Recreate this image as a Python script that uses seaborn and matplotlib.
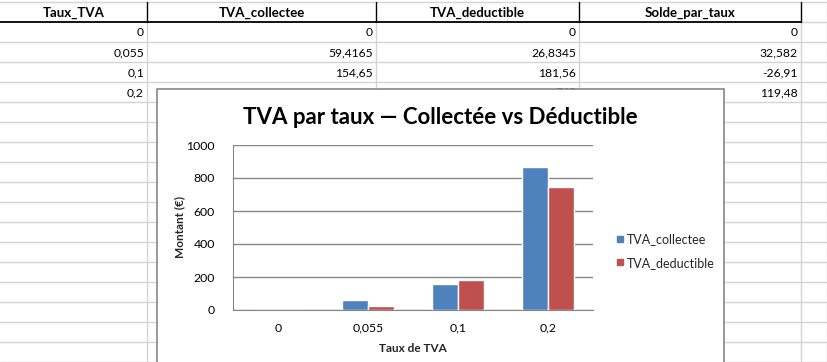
import matplotlib
matplotlib.use("Agg")
import matplotlib.pyplot as plt
from matplotlib.patches import Rectangle
from matplotlib.lines import Line2D
import seaborn as sns
import pandas as pd

# Data
taux = ["0", "0,055", "0,1", "0,2"]
tva_collectee = [0, 59.4165, 154.65, 864.48]
tva_deductible = [0, 26.8345, 181.56, 745.0]
solde_cells = ["0", "32,582", "-26,91", "119,48"]
collectee_cells = ["0", "59,4165", "154,65", "864,48"]
deductible_cells = ["0", "26,8345", "181,56", "745"]
headers = ["Taux_TVA", "TVA_collectee", "TVA_deductible", "Solde_par_taux"]
y_ticks = [0, 200, 400, 600, 800, 1000]

df = pd.DataFrame({"Taux": taux, "TVA_collectee": tva_collectee,
                   "TVA_deductible": tva_deductible})
long_df = df.melt(id_vars="Taux", var_name="Serie", value_name="Montant")

sns.set_style("white")
plt.rcParams["font.family"] = ["Lato", "DejaVu Sans"]

W, H = 828, 362
fig = plt.figure(figsize=(W / 100, H / 100), dpi=100)

# Spreadsheet background (pixel coordinates)
bg = fig.add_axes([0, 0, 1, 1])
bg.set_xlim(0, W)
bg.set_ylim(H, 0)
bg.axis("off")

grid_col = "#d4d4d4"
col_edges = [0, 147, 376, 579, 801]
for x in col_edges[1:]:
    bg.plot([x, x], [22, H], color=grid_col, lw=1)
bg.plot([W - 0.5, W - 0.5], [0, H], color=grid_col, lw=1)
for r in range(1, 18):
    y = 22 + 20 * r
    bg.plot([0, W], [y, y], color=grid_col, lw=1)
bg.plot([0, W], [2, 2], color=grid_col, lw=1)
bg.plot([801, W], [22, 22], color=grid_col, lw=1)

# Header row with black borders
bg.plot([0, 801], [22, 22], color="black", lw=1.3)
for x in col_edges[1:]:
    bg.plot([x, x], [2, 22], color="black", lw=1)
for i, h in enumerate(headers):
    cx = (col_edges[i] + col_edges[i + 1]) / 2
    bg.text(cx, 12.5, h, ha="center", va="center", fontsize=9.5,
            fontweight="bold", color="black")

columns = [taux, collectee_cells, deductible_cells, solde_cells]
for i, cells in enumerate(columns):
    for r, val in enumerate(cells):
        bg.text(col_edges[i + 1] - 3, 32.5 + 20 * r, val, ha="right",
                va="center", fontsize=8.75, color="black")

# Chart area
bg.add_patch(Rectangle((157, 89), 567, 290, facecolor="white",
                       edgecolor="#868686", lw=1.2, zorder=10))
bg.text(440.5, 117, "TVA par taux — Collectée vs Déductible", ha="center",
        va="center", fontsize=16, fontweight="bold", color="black",
        zorder=11)

ax = fig.add_axes([233 / W, (H - 310) / H, 360 / W, 165 / H])
palette = {"TVA_collectee": "#4F81BD", "TVA_deductible": "#C0504D"}
sns.barplot(data=long_df, x="Taux", y="Montant", hue="Serie", order=taux,
            hue_order=["TVA_collectee", "TVA_deductible"], palette=palette,
            width=0.57, edgecolor="white", linewidth=1, saturation=1,
            legend=False, ax=ax, zorder=3)
ax.set_ylim(0, 1000)
ax.set_yticks(y_ticks)
ax.yaxis.grid(True, color="#868686", lw=1)
ax.set_axisbelow(True)
for s in ["top", "right"]:
    ax.spines[s].set_visible(False)
ax.spines["left"].set_color("#868686")
ax.spines["bottom"].set_color("#868686")
ax.tick_params(axis="both", length=0, labelsize=8.8, colors="black")
ax.tick_params(axis="y", pad=13)
ax.tick_params(axis="x", pad=9)
ax.set_xlabel("Taux de TVA", fontsize=8.5, fontweight="bold", labelpad=7)
ax.set_ylabel("Montant (€)", fontsize=8.5, fontweight="bold")
ax.yaxis.set_label_coords((185 - 233) / 360, 0.5)

handles = [Line2D([], [], marker="s", ls="none", markersize=5,
                  color=palette[k]) for k in ["TVA_collectee", "TVA_deductible"]]
ax.legend(handles, ["TVA_collectee", "TVA_deductible"], loc="center left",
          bbox_to_anchor=(611 / W, (H - 251) / H), bbox_transform=fig.transFigure,
          frameon=False, fontsize=9, handlelength=0.6, handletextpad=0.25,
          labelspacing=0.9, borderaxespad=0, labelcolor="#262626")

fig.savefig("out.png", dpi=100)
